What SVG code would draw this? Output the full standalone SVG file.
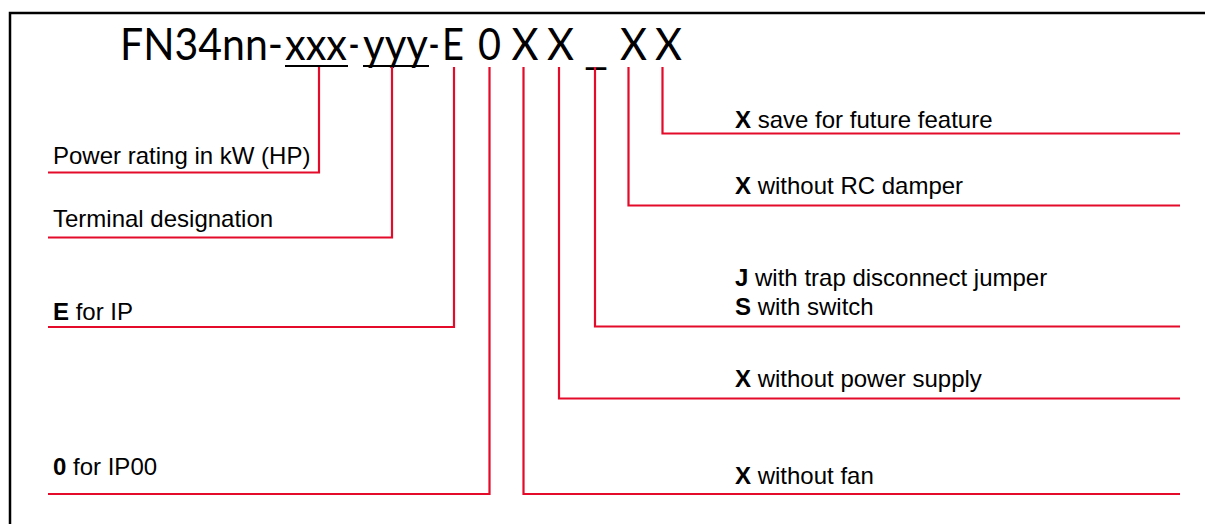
<svg xmlns="http://www.w3.org/2000/svg" width="1205" height="524" viewBox="0 0 1205 524">
  <style>
    .title { font-family: Lato, "Open Sans", sans-serif; font-size: 44px; fill: #000; }
    .lbl { font-family: "Liberation Sans", Arial, sans-serif; font-size: 24px; fill: #000; }
    .b { font-weight: bold; }
    .conn { fill: none; stroke: #e30a2a; stroke-width: 2.2; }
    .ul { stroke: #000; stroke-width: 2.2; }
  </style>
  <rect width="1205" height="524" fill="#fff"/>
  <path d="M10,524 V13 H1205" fill="none" stroke="#000" stroke-width="2.5"/>

  <g id="code">
    <text class="title" y="59.5"><tspan x="120" textLength="163" lengthAdjust="spacingAndGlyphs">FN34nn-</tspan><tspan x="285" textLength="62" lengthAdjust="spacingAndGlyphs">xxx</tspan><tspan x="348.5" textLength="11" lengthAdjust="spacingAndGlyphs">-</tspan><tspan x="363" textLength="65" lengthAdjust="spacingAndGlyphs">yyy</tspan><tspan x="428.5" textLength="11" lengthAdjust="spacingAndGlyphs">-</tspan><tspan x="442" textLength="22" lengthAdjust="spacingAndGlyphs">E</tspan><tspan x="478" textLength="23" lengthAdjust="spacingAndGlyphs">0</tspan><tspan x="511.5" textLength="27" lengthAdjust="spacingAndGlyphs">X</tspan><tspan x="547" textLength="27" lengthAdjust="spacingAndGlyphs">X</tspan><tspan x="584" y="64" textLength="24" lengthAdjust="spacingAndGlyphs">_</tspan><tspan x="620" y="59.5" textLength="27" lengthAdjust="spacingAndGlyphs">X</tspan><tspan x="655" y="59.5" textLength="27" lengthAdjust="spacingAndGlyphs">X</tspan></text>
    <line class="ul" x1="285" y1="66" x2="348" y2="66"/>
    <line class="ul" x1="363" y1="66" x2="429" y2="66"/>
  </g>

  <g id="connectors">
    <path class="conn" d="M319,67 V172.5 H48"/>
    <path class="conn" d="M392,67 V237.5 H48"/>
    <path class="conn" d="M454,67 V327 H48"/>
    <path class="conn" d="M489.5,67 V494 H48"/>
    <path class="conn" d="M523.5,67 V494 H1180"/>
    <path class="conn" d="M559,67 V398.5 H1180"/>
    <path class="conn" d="M595,67 V326.5 H1180"/>
    <path class="conn" d="M628.5,67 V205.5 H1180"/>
    <path class="conn" d="M662.5,67 V133.5 H1180"/>
  </g>

  <g id="label-power"><text class="lbl" x="53" y="163.5">Power rating in kW (HP)</text></g>
  <g id="label-terminal"><text class="lbl" x="53" y="227">Terminal designation</text></g>
  <g id="label-e"><text class="lbl" x="53" y="319.5"><tspan class="b">E</tspan> for IP</text></g>
  <g id="label-0"><text class="lbl" x="53" y="475"><tspan class="b">0</tspan> for IP00</text></g>

  <g id="label-x4"><text class="lbl" x="735" y="127.5"><tspan class="b">X</tspan> save for future feature</text></g>
  <g id="label-x3"><text class="lbl" x="735" y="193.5"><tspan class="b">X</tspan> without RC damper</text></g>
  <g id="label-js">
    <text class="lbl" x="735" y="285.5"><tspan class="b">J</tspan> with trap disconnect jumper</text>
    <text class="lbl" x="735" y="314.5"><tspan class="b">S</tspan> with switch</text>
  </g>
  <g id="label-x2"><text class="lbl" x="735" y="387"><tspan class="b">X</tspan> without power supply</text></g>
  <g id="label-x1"><text class="lbl" x="735" y="484"><tspan class="b">X</tspan> without fan</text></g>
</svg>
